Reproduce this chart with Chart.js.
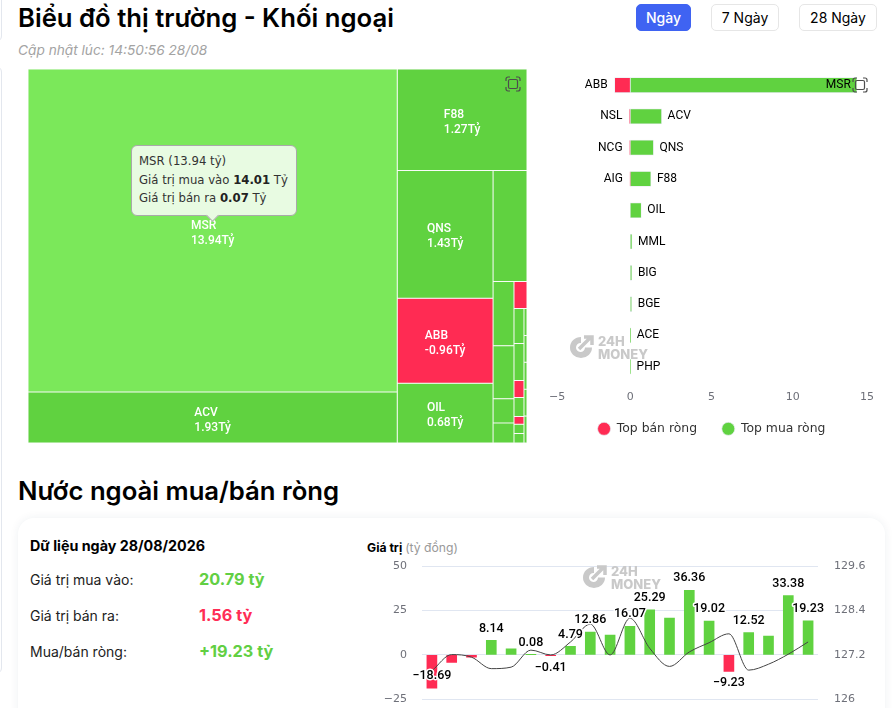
<!DOCTYPE html>
<html lang="vi">
<head>
<meta charset="utf-8">
<title>Biểu đồ thị trường - Khối ngoại</title>
<script src="https://cdn.jsdelivr.net/npm/chart.js@4/dist/chart.umd.js"></script>
<style>
  html, body { margin: 0; padding: 0; background: #fff; overflow: hidden; }
  body { width: 895px; height: 708px; position: relative; font-family: Inter, sans-serif; color: #000; }
  .abs { position: absolute; white-space: nowrap; }
  canvas { position: absolute; display: block; }
  h1 { margin: 0; font-size: 25.7px; line-height: 32px; font-weight: 600; }
  .edge { position: absolute; left: -12px; width: 12px; border: 1px solid #e3e7ee; border-radius: 6px; }
  .btn { position: absolute; top: 4px; height: 25px; line-height: 25px; text-align: center; font-size: 14px; border: 1px solid #e6e6e6; border-radius: 5px; background: #fff; }
  .btn.on { background: #3f63f2; border-color: #3f63f2; color: #fff; font-weight: 500; }
  .card { position: absolute; left: 18px; top: 518px; width: 867px; height: 260px; border-radius: 16px; background: #fff; box-shadow: 0 0 10px rgba(30, 50, 90, .07); }
  .tip { position: absolute; left: 131px; top: 145px; width: 164px; height: 69px; background: #e8fbe2; border: 1px solid #a9a9a9; border-radius: 6px; font: 11.7px/18.5px "DejaVu Sans", sans-serif; color: #333; box-sizing: content-box; }
  .tip div { padding-left: 7px; white-space: nowrap; }
  .tip div:first-child { margin-top: 6px; }
  .tip b { color: #222; }
  .tip i { position: absolute; left: 76px; top: 65px; width: 8px; height: 8px; background: #e8fbe2; border-right: 1px solid #a9a9a9; border-bottom: 1px solid #a9a9a9; transform: rotate(45deg); }
  .mark { position: absolute; color: #c9c9c9; font-weight: 800; font-size: 13px; line-height: 12.5px; }
  .mark svg { position: absolute; left: 0; top: 0; }
  .mark span { position: absolute; left: 30px; white-space: nowrap; }
  .mark span + span { top: 13px; }
</style>
</head>
<body>
<div class="edge" style="top:-12px;height:52px"></div>
<div class="edge" style="top:66px;height:606px"></div>

<h1 class="abs" style="left:18px;top:2px">Biểu đồ thị trường - Khối ngoại</h1>
<div class="abs" style="left:18px;top:42px;font-size:13.7px;font-style:italic;color:#a3a3a3">Cập nhật lúc: 14:50:56 28/08</div>
<div class="btn on" style="left:636px;width:53px">Ngày</div>
<div class="btn" style="left:711px;width:66px">7 Ngày</div>
<div class="btn" style="left:799px;width:76px">28 Ngày</div>

<canvas id="treemap" width="499" height="374" style="left:28px;top:69px"></canvas>
<canvas id="topBars" width="355" height="391" style="left:540px;top:60px"></canvas>

<div class="mark" style="left:568px;top:335px"><svg width="26" height="25" viewBox="0 0 26 25"><path d="M13 2A11 10.5 0 1 0 24 12.5h-7A4.5 4.5 0 1 1 13 8z" fill="#c9c9c9"/><path d="M11 14L23 2M16 2h8v8" stroke="#c9c9c9" stroke-width="3.5" fill="none"/></svg><span>24H</span><span>MONEY</span></div>

<svg class="abs" style="left:505px;top:76px" width="16" height="16" viewBox="0 0 16 16" fill="none" stroke="#4d4d4d" stroke-width="1.2"><path d="M1 5V3a2 2 0 0 1 2-2h2M11 1h2a2 2 0 0 1 2 2v2M15 11v2a2 2 0 0 1-2 2h-2M5 15H3a2 2 0 0 1-2-2v-2"/><rect x="3.5" y="3.5" width="9" height="9" rx="1.5"/></svg>
<svg class="abs" style="left:852px;top:77px" width="16" height="16" viewBox="0 0 16 16" fill="none" stroke="#4d4d4d" stroke-width="1.2"><path d="M1 5V3a2 2 0 0 1 2-2h2M11 1h2a2 2 0 0 1 2 2v2M15 11v2a2 2 0 0 1-2 2h-2M5 15H3a2 2 0 0 1-2-2v-2"/><rect x="3.5" y="3.5" width="9" height="9" rx="1.5"/></svg>

<div class="tip">
  <div>MSR (13.94 tỷ)</div>
  <div>Giá trị mua vào <b>14.01</b> Tỷ</div>
  <div>Giá trị bán ra <b>0.07</b> Tỷ</div>
  <i></i>
</div>

<h1 class="abs" style="left:18px;top:475px">Nước ngoài mua/bán ròng</h1>
<div class="card"></div>
<div class="abs" style="left:30px;top:537px;font-size:14.3px;font-weight:700">Dữ liệu ngày 28/08/2026</div>
<div class="abs" style="left:30px;top:571px;font-size:14px;color:#222">Giá trị mua vào:</div>
<div class="abs" style="left:199px;top:569px;font-size:16.3px;font-weight:700;color:#62cf43">20.79 tỷ</div>
<div class="abs" style="left:30px;top:607px;font-size:14px;color:#222">Giá trị bán ra:</div>
<div class="abs" style="left:199px;top:605px;font-size:16.3px;font-weight:700;color:#ff2d55">1.56 tỷ</div>
<div class="abs" style="left:30px;top:643px;font-size:14px;color:#222">Mua/bán ròng:</div>
<div class="abs" style="left:199px;top:641px;font-size:16.3px;font-weight:700;color:#62cf43">+19.23 tỷ</div>

<div class="abs" style="left:367px;top:540px;font-size:12.2px;font-weight:700">Giá trị <span style="font-weight:400;color:#999">(tỷ đồng)</span></div>
<canvas id="netFlow" width="545" height="192" style="left:350px;top:530px"></canvas>
<div class="mark" style="left:581px;top:565px"><svg width="26" height="25" viewBox="0 0 26 25"><path d="M13 2A11 10.5 0 1 0 24 12.5h-7A4.5 4.5 0 1 1 13 8z" fill="#c9c9c9"/><path d="M11 14L23 2M16 2h8v8" stroke="#c9c9c9" stroke-width="3.5" fill="none"/></svg><span>24H</span><span>MONEY</span></div>

<script>
// treemap cells, index = position in the nested tree below
const cellNames = ['MSR', 'ACV', 'F88', 'QNS', 'ABB', 'OIL'];
const cellNet = [13.94, 1.93, 1.27, 1.43, -0.96, 0.68, 0.44, 0.16, 0.13, 0.06, 0.05, -0.04, 0.04, 0.04, -0.02, 0.02, -0.01, 0.01, 0.01, 0.01, 0.01, 0.01, 0.01, 0.01];
const cellWeights = [13.94, 2.2, 1.54, 1.43, 0.95, 0.67, 0.44, 0.157, 0.13, 0.059, 0.049, 0.041, 0.041, 0.043, 0.02, 0.022, 0.009, 0.011, 0.011, 0.0095, 0.0095, 0.0095, 0.0095, 0.0095];
const cellTree = [[0, 1], [2, [[3, 4, 5], [6, [[7, 8, 9, 10], [11, [[12, 13, 14, 15, 16, 17, 18], [19, 20, 21, 22, 23]]]]]]]];

// top net buy / net sell bars
const sellNames = ['ABB', 'NSL', 'NCG', 'AIG', '', '', '', '', '', ''];
const buyNames = ['MSR', 'ACV', 'QNS', 'F88', 'OIL', 'MML', 'BIG', 'BGE', 'ACE', 'PHP'];
const sellValues = [-0.96, -0.05, -0.04, -0.02, 0, 0, 0, 0, 0, 0];
const buyValues = [13.94, 1.93, 1.43, 1.27, 0.68, 0.11, 0.1, 0.09, 0.03, 0.02];
const barTicks = [-5, 0, 5, 10, 15];

// 20 sessions of net flow and the index line
const flowDays = ['1', '2', '3', '4', '5', '6', '7', '8', '9', '10', '11', '12', '13', '14', '15', '16', '17', '18', '19', '20'];
const flowValues = [-18.69, -4.2, -1.2, 8.14, 3.4, 0.08, -0.41, 4.79, 12.86, 11.2, 16.07, 25.29, 20.7, 36.36, 19.02, -9.23, 12.52, 10.6, 33.38, 19.23];
const flowLabelShown = [1, 0, 0, 1, 0, 1, 1, 1, 1, 0, 1, 1, 0, 1, 1, 1, 1, 0, 1, 1];
const priceValues = [126.77, 127.21, 127.14, 126.83, 126.87, 127.33, 127.2, 127.55, 128.03, 127.2, 128.19, 127.38, 126.89, 127.28, 127.53, 127.77, 126.79, 126.95, 127.22, 127.55];
const flowTicks = [-25, 0, 25, 50];
const priceTicks = [126, 127.2, 128.4, 129.6];

const GREEN = '#60d240';
const LIGHT_GREEN = '#7be85a';
const RED = '#ff2b53';
const TICK_FONT = { family: '"DejaVu Sans", sans-serif', size: 11 };
const minus = v => String(v).replace('-', '\u2212');

Chart.defaults.animation = false;

// slice the unit square along the nested tree, direction flips at each level
function weightOf(node) {
  return typeof node === 'number' ? cellWeights[node] : node.reduce((s, n) => s + weightOf(n), 0);
}
function sliceTree(node, x0, x1, y0, y1, depth, out) {
  if (typeof node === 'number') {
    out[node] = { x0, x1, y0, y1 };
    return out;
  }
  const total = weightOf(node);
  let pos = depth % 2 === 0 ? x0 : y0;
  node.forEach(child => {
    const share = weightOf(child) / total;
    if (depth % 2 === 0) {
      const w = (x1 - x0) * share;
      sliceTree(child, pos, pos + w, y0, y1, depth + 1, out);
      pos += w;
    } else {
      const h = (y1 - y0) * share;
      sliceTree(child, x0, x1, pos, pos + h, depth + 1, out);
      pos += h;
    }
  });
  return out;
}

class TreemapController extends Chart.BarController {
  static id = 'treemap';
  static defaults = Chart.BarController.defaults;
  static overrides = {};
  updateElements(rects, start, count, mode) {
    const xs = this._cachedMeta.xScale;
    const ys = this._cachedMeta.yScale;
    const cells = sliceTree(cellTree, 0, 1, 0, 1, 0, []);
    for (let i = start; i < start + count; i++) {
      const c = cells[i];
      const left = xs.getPixelForValue(c.x0);
      const right = xs.getPixelForValue(c.x1);
      const props = {
        horizontal: false,
        x: (left + right) / 2,
        width: right - left,
        y: ys.getPixelForValue(c.y0),
        base: ys.getPixelForValue(c.y1),
        height: ys.getPixelForValue(c.y1) - ys.getPixelForValue(c.y0),
        borderSkipped: {},
        enableBorderRadius: false,
        inflateAmount: 0,
        options: this.resolveDataElementOptions(i, mode)
      };
      this.updateElement(rects[i], i, props, mode);
    }
  }
}
Chart.register(TreemapController);

const cellLabels = {
  id: 'cellLabels',
  afterDatasetsDraw(chart) {
    const ctx = chart.ctx;
    const meta = chart.getDatasetMeta(0);
    ctx.save();
    ctx.font = '500 12px Roboto, sans-serif';
    ctx.fillStyle = '#fff';
    ctx.textBaseline = 'middle';
    ctx.textAlign = 'left';
    cellNames.forEach((name, i) => {
      const el = meta.data[i];
      const value = cellNet[i].toFixed(2) + 'Tỷ';
      const w = Math.max(ctx.measureText(name).width, ctx.measureText(value).width);
      const left = el.x - w / 2;
      const mid = (el.y + el.base) / 2;
      ctx.fillText(name, left, mid - 5);
      ctx.fillText(value, left, mid + 10);
    });
    ctx.restore();
  }
};

new Chart(document.getElementById('treemap'), {
  type: 'treemap',
  data: {
    labels: cellWeights.map((v, i) => cellNames[i] || ''),
    datasets: [{
      data: cellWeights,
      backgroundColor: c => cellNet[c.dataIndex] < 0 ? RED : (cellNet[c.dataIndex] > 5 ? LIGHT_GREEN : GREEN),
      borderColor: 'rgba(240, 245, 240, 0.95)',
      borderWidth: 0.5,
      borderSkipped: false
    }]
  },
  options: {
    responsive: false,
    events: [],
    scales: {
      x: { type: 'linear', display: false, min: 0, max: 1 },
      y: { type: 'linear', display: false, min: 0, max: 1, reverse: true }
    },
    plugins: { legend: { display: false }, tooltip: { enabled: false } }
  },
  plugins: [cellLabels]
});

const barNames = {
  id: 'barNames',
  afterLayout(chart) {
    chart.legend.top -= 5.5; // legend padding is wide for the item gap, pull it back up
  },
  afterDatasetsDraw(chart) {
    const ctx = chart.ctx;
    const sellMeta = chart.getDatasetMeta(0);
    const buyMeta = chart.getDatasetMeta(1);
    ctx.save();
    ctx.font = '12px Roboto, sans-serif';
    ctx.fillStyle = '#000';
    ctx.textBaseline = 'middle';
    buyNames.forEach((name, i) => {
      const end = buyMeta.data[i];
      const w = ctx.measureText(name).width;
      if (end.x + 6 + w > chart.chartArea.right) {
        ctx.textAlign = 'right';
        ctx.fillText(name, end.x - 6, end.y);
      } else {
        ctx.textAlign = 'left';
        ctx.fillText(name, end.x + 6, end.y);
      }
    });
    ctx.textAlign = 'right';
    sellNames.forEach((name, i) => {
      const end = sellMeta.data[i];
      if (name) ctx.fillText(name, end.x - 7, end.y);
    });
    ctx.restore();
  }
};

new Chart(document.getElementById('topBars'), {
  type: 'bar',
  data: {
    labels: buyNames,
    datasets: [
      { label: 'Top bán ròng', data: sellValues, backgroundColor: RED, borderColor: '#e6ebf0', borderWidth: 0.7, borderSkipped: false, barThickness: 15, pointStyle: 'circle' },
      { label: 'Top mua ròng', data: buyValues, backgroundColor: GREEN, borderColor: '#e6ebf0', borderWidth: 0.7, borderSkipped: false, barThickness: 15, pointStyle: 'circle' }
    ]
  },
  options: {
    responsive: false,
    indexAxis: 'y',
    events: [],
    layout: { padding: { left: 9, right: 21, top: 9.5, bottom: 0.5 } },
    scales: {
      x: {
        stacked: true,
        min: barTicks[0],
        max: barTicks[barTicks.length - 1],
        grid: { display: false },
        border: { display: false },
        afterBuildTicks: s => { s.ticks = barTicks.map(v => ({ value: v })); },
        afterFit: s => { s.height = 21; },
        ticks: { align: 'inner', padding: 0, color: '#6e7079', font: TICK_FONT, callback: minus }
      },
      y: { stacked: true, display: false }
    },
    plugins: {
      tooltip: { enabled: false },
      legend: {
        position: 'bottom',
        labels: {
          usePointStyle: true,
          pointStyleWidth: 13,
          boxHeight: 9.2,
          padding: 24.8,
          color: '#333',
          font: { family: '"DejaVu Sans", sans-serif', size: 12.4 }
        }
      }
    }
  },
  plugins: [barNames]
});

const flowLabels = {
  id: 'flowLabels',
  afterDatasetsDraw(chart) {
    const ctx = chart.ctx;
    const meta = chart.getDatasetMeta(1);
    const area = chart.chartArea;
    ctx.save();
    ctx.font = '500 12.5px Roboto, sans-serif';
    ctx.textAlign = 'center';
    ctx.textBaseline = 'middle';
    ctx.lineJoin = 'round';
    ctx.lineWidth = 3;
    ctx.strokeStyle = '#fff';
    ctx.fillStyle = '#000';
    flowValues.forEach((v, i) => {
      if (!flowLabelShown[i]) return;
      const bar = meta.data[i];
      let y = v < 0 ? bar.y + 12 : bar.y - 12;
      if (y + 6 > area.bottom) y = bar.y - 12; // no room under the bar, flip inside
      const text = minus(v.toFixed(2));
      ctx.strokeText(text, bar.x, y);
      ctx.fillText(text, bar.x, y);
    });
    ctx.restore();
  }
};

new Chart(document.getElementById('netFlow'), {
  type: 'bar',
  data: {
    labels: flowDays,
    datasets: [
      {
        type: 'line',
        data: priceValues,
        yAxisID: 'price',
        borderColor: '#444',
        borderWidth: 1,
        pointRadius: 0,
        cubicInterpolationMode: 'monotone',
        clip: false,
        order: 1
      },
      {
        type: 'bar',
        data: flowValues,
        yAxisID: 'flow',
        backgroundColor: c => c.raw < 0 ? RED : GREEN,
        barThickness: 10,
        order: 2
      }
    ]
  },
  options: {
    responsive: false,
    events: [],
    layout: { padding: { top: 36, bottom: 9.5 } },
    scales: {
      x: { display: false },
      flow: {
        position: 'left',
        min: flowTicks[0],
        max: flowTicks[flowTicks.length - 1],
        afterBuildTicks: s => { s.ticks = flowTicks.map(v => ({ value: v })); },
        afterFit: s => { s.width = 72; },
        grid: { color: '#e0e6f1', drawTicks: false },
        border: { display: false },
        ticks: { padding: 15, color: '#6e7079', font: TICK_FONT, callback: minus }
      },
      price: {
        position: 'right',
        min: priceTicks[0],
        max: priceTicks[priceTicks.length - 1],
        afterBuildTicks: s => { s.ticks = priceTicks.map(v => ({ value: v })); },
        afterFit: s => { s.width = 77; },
        grid: { display: false, drawTicks: false },
        border: { display: false },
        ticks: { padding: 16, color: '#6e7079', font: TICK_FONT, callback: v => String(v) }
      }
    },
    plugins: { legend: { display: false }, tooltip: { enabled: false } }
  },
  plugins: [flowLabels]
});
</script>
</body>
</html>
